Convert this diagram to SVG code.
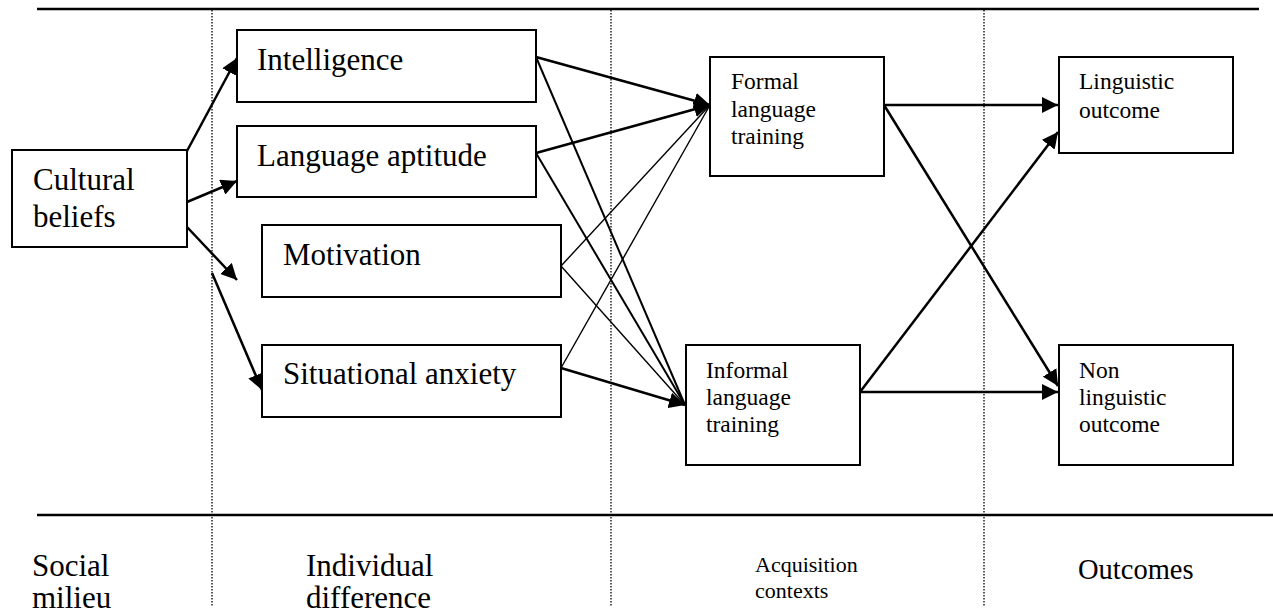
<svg xmlns="http://www.w3.org/2000/svg" width="1273" height="616" viewBox="0 0 1273 616">
  <style>
    .box { fill: #fff; stroke: #000; stroke-width: 2; }
    .big { font-family: "Liberation Serif", "Times New Roman", serif; font-size: 31px; fill: #000; }
    .small { font-family: "Liberation Serif", "Times New Roman", serif; font-size: 23.5px; fill: #000; }
    .rule { stroke: #000; stroke-width: 2.5; }
    .divider { stroke: #000; stroke-width: 1.3; stroke-dasharray: 1.5 1.5; }
    .thick { stroke: #000; stroke-width: 2.5; fill: none; }
    .mid { stroke: #000; stroke-width: 2; fill: none; }
    .thin { stroke: #000; stroke-width: 1.4; fill: none; }
  </style>
  <defs>
    <marker id="head" markerUnits="userSpaceOnUse" markerWidth="18" markerHeight="16" refX="16" refY="8" orient="auto">
      <path d="M0,0 L16,8 L0,16 Z" fill="#000"/>
    </marker>
  </defs>

  <rect width="1273" height="616" fill="#fff"/>

  <!-- horizontal rules and column dividers -->
  <g id="frame">
    <line class="rule" x1="37" y1="9" x2="1259" y2="9"/>
    <line class="rule" x1="37" y1="515" x2="1273" y2="515"/>
    <line class="divider" x1="212" y1="10" x2="212" y2="607"/>
    <line class="divider" x1="611" y1="10" x2="611" y2="607"/>
    <line class="divider" x1="984" y1="10" x2="984" y2="607"/>
  </g>

  <!-- connectors -->
  <g id="connectors">
    <!-- cultural beliefs to individual differences -->
    <line class="thick" x1="187" y1="151" x2="237" y2="58" marker-end="url(#head)"/>
    <line class="thick" x1="187" y1="202" x2="237" y2="181" marker-end="url(#head)"/>
    <line class="thick" x1="187" y1="227" x2="237" y2="280" marker-end="url(#head)"/>
    <line class="thick" x1="212" y1="273" x2="262" y2="390" marker-end="url(#head)"/>

    <!-- individual differences to acquisition contexts -->
    <line class="thick" x1="536" y1="57" x2="710" y2="105" marker-end="url(#head)"/>
    <line class="mid" x1="536" y1="57" x2="685" y2="405"/>
    <line class="thick" x1="536" y1="153" x2="710" y2="105" marker-end="url(#head)"/>
    <line class="mid" x1="536" y1="153" x2="685" y2="405"/>
    <line class="thin" x1="561" y1="266" x2="710" y2="105"/>
    <line class="thin" x1="561" y1="266" x2="685" y2="405"/>
    <line class="thin" x1="561" y1="368" x2="710" y2="105"/>
    <line class="thick" x1="561" y1="368" x2="685" y2="405" marker-end="url(#head)"/>

    <!-- acquisition contexts to outcomes -->
    <line class="thick" x1="884" y1="105" x2="1058" y2="105" marker-end="url(#head)"/>
    <line class="thick" x1="884" y1="105" x2="1058" y2="386" marker-end="url(#head)"/>
    <line class="thick" x1="860" y1="392" x2="1058" y2="132" marker-end="url(#head)"/>
    <line class="thick" x1="860" y1="392" x2="1058" y2="392" marker-end="url(#head)"/>
  </g>

  <g id="cultural-beliefs">
    <rect class="box" x="12" y="150" width="175" height="97"/>
    <text class="big" x="33" y="190">Cultural</text>
    <text class="big" x="33" y="227">beliefs</text>
  </g>

  <g id="intelligence">
    <rect class="box" x="237" y="30" width="299" height="72"/>
    <text class="big" x="257" y="70">Intelligence</text>
  </g>

  <g id="language-aptitude">
    <rect class="box" x="237" y="126" width="299" height="71"/>
    <text class="big" x="257" y="166">Language aptitude</text>
  </g>

  <g id="motivation">
    <rect class="box" x="262" y="225" width="299" height="72"/>
    <text class="big" x="283" y="265">Motivation</text>
  </g>

  <g id="situational-anxiety">
    <rect class="box" x="262" y="345" width="299" height="72"/>
    <text class="big" x="283" y="384">Situational anxiety</text>
  </g>

  <g id="formal-training">
    <rect class="box" x="710" y="57" width="174" height="119"/>
    <text class="small" x="731" y="89">Formal</text>
    <text class="small" x="731" y="117">language</text>
    <text class="small" x="731" y="144">training</text>
  </g>

  <g id="informal-training">
    <rect class="box" x="686" y="345" width="174" height="120"/>
    <text class="small" x="706" y="378">Informal</text>
    <text class="small" x="706" y="405">language</text>
    <text class="small" x="706" y="432">training</text>
  </g>

  <g id="linguistic-outcome">
    <rect class="box" x="1059" y="57" width="174" height="96"/>
    <text class="small" x="1079" y="89">Linguistic</text>
    <text class="small" x="1079" y="118">outcome</text>
  </g>

  <g id="non-linguistic-outcome">
    <rect class="box" x="1059" y="345" width="174" height="120"/>
    <text class="small" x="1079" y="378">Non</text>
    <text class="small" x="1079" y="405">linguistic</text>
    <text class="small" x="1079" y="432">outcome</text>
  </g>

  <!-- column captions -->
  <g id="captions">
    <text class="big" x="32" y="576">Social</text>
    <text class="big" x="32" y="608">milieu</text>
    <text class="big" x="306" y="576">Individual</text>
    <text class="big" x="306" y="608">difference</text>
    <text class="small" x="755" y="572" style="font-size:22px">Acquisition</text>
    <text class="small" x="755" y="598" style="font-size:22px">contexts</text>
    <text class="big" x="1078" y="579" style="font-size:28.5px">Outcomes</text>
  </g>
</svg>
